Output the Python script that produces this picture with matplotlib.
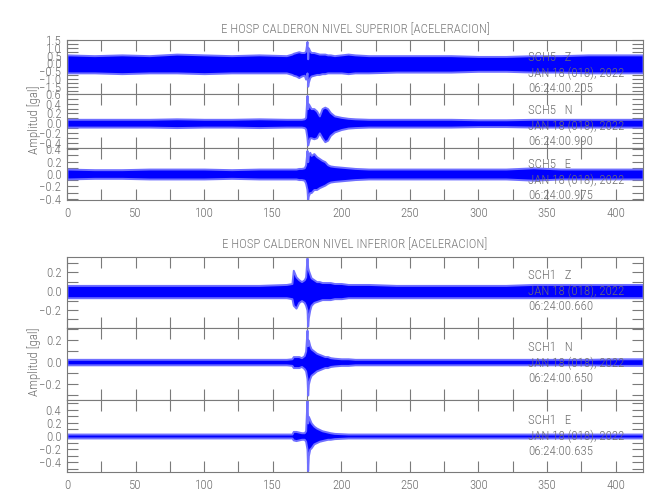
import matplotlib
matplotlib.use("Agg")
import matplotlib.pyplot as plt
from matplotlib import font_manager
from matplotlib.ticker import MultipleLocator, FuncFormatter

# ---------------- data ----------------
# time knots (s) at which the trace envelopes were read
t = [0, 20, 40, 60, 80, 100, 120, 140, 160, 164, 165, 167, 169, 171, 173, 174,
     175, 175.5, 176, 177, 178, 180, 182, 184, 186, 188, 190, 192, 195, 200,
     205, 210, 220, 240, 260, 280, 300, 320, 340, 360, 380, 400, 420]

# upper group: E HOSP CALDERON NIVEL SUPERIOR
sch5_z_up = [0.55, 0.5, 0.55, 0.5, 0.6, 0.55, 0.5, 0.55, 0.5, 0.6, 0.65, 0.7, 0.75, 0.7, 0.7, 0.8,
             1.4, 0.3, 1.0, 0.8, 0.7, 0.7, 0.65, 0.6, 0.6, 0.6, 0.55, 0.55, 0.5, 0.55,
             0.6, 0.55, 0.5, 0.5, 0.5, 0.5, 0.45, 0.45, 0.5, 0.5, 0.55, 0.55, 0.55]
sch5_z_lo = [-0.6, -0.6, -0.65, -0.6, -0.6, -0.65, -0.6, -0.6, -0.6, -0.7, -0.75, -0.8, -0.9, -0.8, -0.75, -1.0,
             -0.6, -1.45, -1.2, -0.9, -0.8, -0.75, -0.7, -0.7, -0.65, -0.65, -0.6, -0.6, -0.6, -0.6,
             -0.65, -0.6, -0.6, -0.55, -0.55, -0.55, -0.5, -0.5, -0.55, -0.55, -0.6, -0.6, -0.6]

sch5_n_up = [0.08, 0.08, 0.08, 0.08, 0.09, 0.08, 0.08, 0.09, 0.08, 0.08, 0.08, 0.08, 0.08, 0.08, 0.09, 0.12,
             0.57, 0.3, 0.4, 0.35, 0.3, 0.3, 0.25, 0.15, 0.3, 0.33, 0.3, 0.22, 0.15, 0.12,
             0.1, 0.09, 0.08, 0.08, 0.08, 0.08, 0.07, 0.07, 0.08, 0.08, 0.08, 0.08, 0.08]
sch5_n_lo = [-0.08, -0.08, -0.08, -0.08, -0.09, -0.08, -0.08, -0.09, -0.08, -0.08, -0.08, -0.08, -0.08, -0.08, -0.09, -0.12,
             -0.3, -0.45, -0.4, -0.3, -0.3, -0.32, -0.3, -0.2, -0.3, -0.38, -0.35, -0.25, -0.18, -0.13,
             -0.1, -0.09, -0.08, -0.08, -0.08, -0.08, -0.07, -0.07, -0.08, -0.08, -0.08, -0.08, -0.08]

sch5_e_up = [0.08, 0.07, 0.07, 0.08, 0.08, 0.08, 0.07, 0.08, 0.08, 0.08, 0.08, 0.08, 0.09, 0.09, 0.1, 0.15,
             0.38, 0.2, 0.3, 0.35, 0.3, 0.33, 0.28, 0.25, 0.22, 0.2, 0.15, 0.13, 0.12, 0.11,
             0.1, 0.09, 0.08, 0.08, 0.08, 0.08, 0.08, 0.08, 0.1, 0.08, 0.08, 0.08, 0.08]
sch5_e_lo = [-0.08, -0.07, -0.07, -0.08, -0.08, -0.08, -0.07, -0.08, -0.08, -0.08, -0.08, -0.08, -0.09, -0.09, -0.1, -0.15,
             -0.25, -0.41, -0.35, -0.3, -0.3, -0.25, -0.25, -0.22, -0.2, -0.18, -0.15, -0.13, -0.12, -0.11,
             -0.1, -0.09, -0.08, -0.08, -0.08, -0.08, -0.08, -0.08, -0.1, -0.08, -0.08, -0.08, -0.08]

# lower group: E HOSP CALDERON NIVEL INFERIOR
sch1_z_up = [0.06, 0.06, 0.06, 0.06, 0.06, 0.06, 0.06, 0.06, 0.07, 0.08, 0.22, 0.15, 0.12, 0.1, 0.12, 0.15,
             0.35, 0.25, 0.22, 0.18, 0.14, 0.12, 0.1, 0.1, 0.09, 0.09, 0.09, 0.09, 0.08, 0.08,
             0.07, 0.07, 0.07, 0.06, 0.06, 0.06, 0.06, 0.06, 0.07, 0.07, 0.07, 0.07, 0.07]
sch1_z_lo = [-0.07, -0.07, -0.07, -0.07, -0.07, -0.07, -0.07, -0.07, -0.07, -0.08, -0.15, -0.18, -0.12, -0.1, -0.12, -0.15,
             -0.2, -0.37, -0.28, -0.2, -0.15, -0.12, -0.11, -0.1, -0.09, -0.09, -0.09, -0.09, -0.08, -0.08,
             -0.07, -0.07, -0.07, -0.07, -0.07, -0.07, -0.07, -0.07, -0.07, -0.07, -0.07, -0.07, -0.07]

sch1_n_up = [0.025, 0.025, 0.025, 0.025, 0.025, 0.025, 0.025, 0.025, 0.025, 0.03, 0.05, 0.05, 0.05, 0.04, 0.06, 0.1,
             0.29, 0.15, 0.2, 0.15, 0.12, 0.1, 0.08, 0.07, 0.06, 0.05, 0.05, 0.04, 0.035, 0.03,
             0.03, 0.025, 0.025, 0.025, 0.025, 0.025, 0.025, 0.025, 0.025, 0.025, 0.025, 0.03, 0.03]
sch1_n_lo = [-0.025, -0.025, -0.025, -0.025, -0.025, -0.025, -0.025, -0.025, -0.025, -0.03, -0.05, -0.05, -0.05, -0.04, -0.06, -0.08,
             -0.15, -0.3, -0.2, -0.15, -0.12, -0.1, -0.08, -0.07, -0.06, -0.05, -0.05, -0.04, -0.035, -0.03,
             -0.03, -0.025, -0.025, -0.025, -0.025, -0.025, -0.025, -0.025, -0.025, -0.025, -0.025, -0.03, -0.03]

sch1_e_up = [0.03, 0.03, 0.03, 0.03, 0.03, 0.03, 0.03, 0.03, 0.03, 0.03, 0.07, 0.07, 0.06, 0.05, 0.05, 0.08,
             0.55, 0.2, 0.3, 0.25, 0.2, 0.15, 0.12, 0.1, 0.08, 0.07, 0.06, 0.05, 0.04, 0.035,
             0.03, 0.03, 0.03, 0.03, 0.03, 0.03, 0.03, 0.03, 0.03, 0.03, 0.03, 0.03, 0.03]
sch1_e_lo = [-0.03, -0.03, -0.03, -0.03, -0.03, -0.03, -0.03, -0.03, -0.03, -0.03, -0.06, -0.07, -0.06, -0.05, -0.05, -0.08,
             -0.2, -0.53, -0.3, -0.2, -0.18, -0.12, -0.1, -0.08, -0.07, -0.06, -0.05, -0.05, -0.04, -0.035,
             -0.03, -0.03, -0.03, -0.03, -0.03, -0.03, -0.03, -0.03, -0.03, -0.03, -0.03, -0.03, -0.03]

titles = ["E HOSP CALDERON NIVEL SUPERIOR [ACELERACION]",
          "E HOSP CALDERON NIVEL INFERIOR [ACELERACION]"]
stations = ["SCH5   Z", "SCH5   N", "SCH5   E", "SCH1   Z", "SCH1   N", "SCH1   E"]
date_label = "JAN 18 (018), 2022"
start_times = ["06:24:00.205", "06:24:00.990", "06:24:00.975",
               "06:24:00.660", "06:24:00.650", "06:24:00.635"]
ylabel = "Amplitud [gal]"
x_ticks = [0, 50, 100, 150, 200, 250, 300, 350, 400]

uppers = [sch5_z_up, sch5_n_up, sch5_e_up, sch1_z_up, sch1_n_up, sch1_e_up]
lowers = [sch5_z_lo, sch5_n_lo, sch5_e_lo, sch1_z_lo, sch1_n_lo, sch1_e_lo]
ylims = [(-1.95, 1.5), (-0.51, 0.6), (-0.42, 0.42),
         (-0.39, 0.36), (-0.345, 0.31), (-0.55, 0.55)]
ymajor = [0.5, 0.2, 0.2, 0.2, 0.2, 0.2]
yminor = [0.25, 0.1, 0.1, 0.1, 0.1, 0.1]

# ---------------- styling / layout ----------------
avail = {f.name for f in font_manager.fontManager.ttflist}
family = "DejaVu Sans"
for cand in ["Liberation Sans Narrow", "DejaVu Sans Condensed", "Roboto Condensed", "Roboto", "Liberation Sans"]:
    if cand in avail:
        family = cand
        break
plt.rcParams["font.family"] = [family, "DejaVu Sans"]
plt.rcParams["font.weight"] = "light"

GRAY = "#7a7a7a"
TXT = "#6e6e6e"
BLUE = "#0000ff"
FS = 9.3

W, H = 650, 500
fig = plt.figure(figsize=(6.5, 5.0), dpi=100)

left, right = 67, 643
# panel pixel extents (top, bottom)
panels_px = [(40, 94), (94, 148), (148, 200), (257, 328), (328, 400), (400, 472)]
text_mid = [0.39, 0.41, 0.38, 0.52, 0.51, 0.50]

axes = []
for i, (top, bot) in enumerate(panels_px):
    ax = fig.add_axes([left / W, 1 - bot / H, (right - left) / W, (bot - top) / H])
    axes.append(ax)
    ax.fill_between(t, lowers[i], uppers[i], facecolor=BLUE, linewidth=1.4,
                    edgecolor="#6f6fff", zorder=2)
    ax.set_xlim(0, 420)
    ax.set_ylim(*ylims[i])
    ax.xaxis.set_major_locator(MultipleLocator(50))
    ax.xaxis.set_minor_locator(MultipleLocator(25))
    ax.yaxis.set_major_locator(MultipleLocator(ymajor[i]))
    ax.yaxis.set_minor_locator(MultipleLocator(yminor[i]))
    ax.yaxis.set_major_formatter(FuncFormatter(lambda v, p: f"{v:.1f}".replace("-", "\u2212")))
    ax.tick_params(axis="both", which="both", direction="in", colors=GRAY,
                   labelcolor=TXT, width=0.8, top=True, right=True)
    ax.tick_params(axis="both", which="both", length=8)
    ax.tick_params(axis="y", labelsize=FS, pad=4)
    ax.tick_params(axis="x", labelsize=FS, pad=5)
    for s in ax.spines.values():
        s.set_color(GRAY)
        s.set_linewidth(0.8)
    if i in (2, 5):
        ax.set_xticks(x_ticks)
        ax.set_xticklabels([str(v) for v in x_ticks])
    else:
        ax.tick_params(axis="x", labelbottom=False)
    ax.text(336, ylims[i][0] + text_mid[i] * (ylims[i][1] - ylims[i][0]),
            f"{stations[i]}\n{date_label}\n{start_times[i]}",
            ha="left", va="center", fontsize=FS, color=TXT, linespacing=1.25, zorder=5)

cx = (left + right) / 2 / W
fig.text(cx, 1 - 30 / H, titles[0], ha="center", va="center", fontsize=FS, color=GRAY)
fig.text(cx, 1 - 245 / H, titles[1], ha="center", va="center", fontsize=FS, color=GRAY)
fig.text(34 / W, 1 - 120 / H, ylabel, rotation=90, ha="center", va="center", fontsize=FS, color=TXT)
fig.text(34 / W, 1 - 362 / H, ylabel, rotation=90, ha="center", va="center", fontsize=FS, color=TXT)

fig.savefig("out.png", dpi=100, facecolor="white")
